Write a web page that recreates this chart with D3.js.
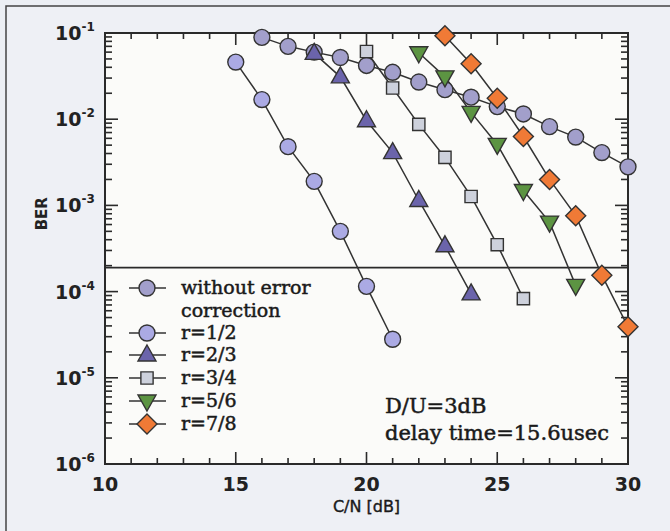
<!DOCTYPE html>
<html>
<head>
<meta charset="utf-8">
<script src="https://cdn.jsdelivr.net/npm/d3@7"></script>
<style>
  body { margin: 0; background: #eceff4; }
  svg { display: block; }
</style>
</head>
<body>
<svg width="670" height="531"></svg>
<script>
var svg = d3.select("svg");
var width = +svg.attr("width");
var height = +svg.attr("height");

// data
var seriesNames = ["without error correction", "r=1/2", "r=2/3", "r=3/4", "r=5/6", "r=7/8"];
var noCorrX = [16, 17, 18, 19, 20, 21, 22, 23, 24, 25, 26, 27, 28, 29, 30];
var noCorrY = [0.089, 0.070, 0.060, 0.052, 0.042, 0.035, 0.027, 0.022, 0.018, 0.014, 0.0115, 0.0082, 0.0062, 0.0041, 0.0028];
var r12X = [15, 16, 17, 18, 19, 20, 21];
var r12Y = [0.046, 0.0169, 0.0048, 0.0019, 0.00050, 0.000115, 2.8e-5];
var r23X = [18, 19, 20, 21, 22, 23, 24];
var r23Y = [0.058, 0.031, 0.0096, 0.0041, 0.00114, 0.00034, 9.4e-5];
var r34X = [20, 21, 22, 23, 24, 25, 26];
var r34Y = [0.061, 0.023, 0.0087, 0.0036, 0.00127, 0.00035, 8.3e-5];
var r56X = [22, 23, 24, 25, 26, 27, 28];
var r56Y = [0.059, 0.031, 0.012, 0.0051, 0.00149, 0.00064, 0.000118];
var r78X = [23, 24, 25, 26, 27, 28, 29, 30];
var r78Y = [0.093, 0.044, 0.0175, 0.0063, 0.0020, 0.00076, 0.000155, 3.9e-5];
var thresholdBER = 1.9e-4;
var xTicks = [10, 15, 20, 25, 30];
var yTicks = [1e-1, 1e-2, 1e-3, 1e-4, 1e-5, 1e-6];
var yTickExp = ["-1", "-2", "-3", "-4", "-5", "-6"];

var series = [
  {name: seriesNames[0], xs: noCorrX, ys: noCorrY, shape: "circle", fill: "#a29fcb"},
  {name: seriesNames[1], xs: r12X, ys: r12Y, shape: "circle", fill: "#abaae4"},
  {name: seriesNames[2], xs: r23X, ys: r23Y, shape: "up", fill: "#6b64ab"},
  {name: seriesNames[3], xs: r34X, ys: r34Y, shape: "square", fill: "#cdd1dc"},
  {name: seriesNames[4], xs: r56X, ys: r56Y, shape: "down", fill: "#5c9442"},
  {name: seriesNames[5], xs: r78X, ys: r78Y, shape: "diamond", fill: "#f07a36"}
];

var margin = {left: 105, right: 42, top: 33, bottom: 67};
var x = d3.scaleLinear().domain([10, 30]).range([margin.left, width - margin.right]);
var y = d3.scaleLog().domain([1e-6, 1e-1]).range([height - margin.bottom, margin.top]);

// outer frame
svg.append("rect")
  .attr("x", 6).attr("y", 6).attr("width", 700).attr("height", 600)
  .style("fill", "#eef0f5").style("stroke", "#444").style("stroke-width", 1.5);

svg.append("rect")
  .attr("x", x(10)).attr("y", y(1e-1))
  .attr("width", x(30) - x(10)).attr("height", y(1e-6) - y(1e-1))
  .style("fill", "#fbfbf9");

// ticks (inward) on all four sides
var g = svg.append("g").style("stroke", "#2a2a2a").style("stroke-width", 1.6);
d3.range(10, 31).forEach(function (v) {
  var len = v % 5 == 0 ? 12 : 6;
  g.append("line").attr("x1", x(v)).attr("x2", x(v)).attr("y1", y(1e-6)).attr("y2", y(1e-6) - len);
  g.append("line").attr("x1", x(v)).attr("x2", x(v)).attr("y1", y(1e-1)).attr("y2", y(1e-1) + len);
});
var yMinor = [];
for (var e = -6; e < -1; e++) {
  for (var m = 1; m < 10; m++) yMinor.push({v: m * Math.pow(10, e), major: m == 1});
}
yMinor.push({v: 1e-1, major: true});
yMinor.forEach(function (t) {
  var len = t.major ? 13 : 7;
  g.append("line").attr("x1", x(10)).attr("x2", x(10) + len).attr("y1", y(t.v)).attr("y2", y(t.v));
  g.append("line").attr("x1", x(30)).attr("x2", x(30) - len).attr("y1", y(t.v)).attr("y2", y(t.v));
});

svg.append("rect")
  .attr("x", x(10)).attr("y", y(1e-1))
  .attr("width", x(30) - x(10)).attr("height", y(1e-6) - y(1e-1))
  .style("fill", "none").style("stroke", "#2a2a2a").style("stroke-width", 2);

// tick labels
svg.append("g").selectAll("text").data(xTicks).enter().append("text")
  .attr("x", function (d) { return x(d); })
  .attr("y", y(1e-6) + 27)
  .attr("text-anchor", "middle")
  .style("font-family", "DejaVu Sans")
  .style("font-weight", "bold")
  .style("font-size", "19px")
  .style("fill", "#222")
  .text(function (d) { return d; });

var yl = svg.append("g").selectAll("text").data(yTicks).enter().append("text")
  .attr("x", x(10) - 50)
  .attr("y", function (d) { return y(d) + 7; })
  .style("font-family", "DejaVu Sans")
  .style("font-weight", "bold")
  .style("font-size", "19px")
  .style("fill", "#222")
  .text("10");
yl.append("tspan")
  .attr("dy", -9)
  .style("font-size", "12px")
  .text(function (d, i) { return yTickExp[i]; });

svg.append("text")
  .attr("transform", "translate(47," + y(8e-4) + ") rotate(-90)")
  .attr("text-anchor", "middle")
  .style("font-family", "DejaVu Sans")
  .style("font-weight", "bold")
  .style("font-size", "15px")
  .style("fill", "#222")
  .text("BER");

svg.append("text")
  .attr("x", x(20)).attr("y", 512)
  .attr("text-anchor", "middle")
  .style("font-family", "DejaVu Sans")
  .style("font-size", "16px")
  .style("fill", "#1a1a1a")
  .style("stroke", "#1a1a1a").style("stroke-width", 0.4)
  .text("C/N [dB]");

// threshold line
svg.append("line")
  .attr("x1", x(10)).attr("x2", x(30))
  .attr("y1", y(thresholdBER)).attr("y2", y(thresholdBER))
  .style("stroke", "#2a2a2a").style("stroke-width", 1.8);

function symbol(shape) {
  if (shape == "circle") return d3.symbol().type(d3.symbolCircle).size(200)();
  if (shape == "square") return d3.symbol().type(d3.symbolSquare).size(150)();
  if (shape == "diamond") return "M0,-10L10,0L0,10L-10,0Z";
  if (shape == "up") return "M0,-10L9,6L-9,6Z";
  return "M0,10L9,-6L-9,-6Z";
}

var line = d3.line()
  .x(function (d) { return x(d[0]); })
  .y(function (d) { return y(d[1]); });

series.forEach(function (s) {
  var pts = s.xs.map(function (v, i) { return [v, s.ys[i]]; });
  svg.append("path").datum(pts)
    .attr("d", line)
    .style("fill", "none").style("stroke", "#333").style("stroke-width", 1.5);
});
series.forEach(function (s) {
  var pts = s.xs.map(function (v, i) { return [v, s.ys[i]]; });
  svg.append("g").selectAll("path").data(pts).enter().append("path")
    .attr("transform", function (d) { return "translate(" + x(d[0]) + "," + y(d[1]) + ")"; })
    .attr("d", symbol(s.shape))
    .style("fill", s.fill).style("stroke", "#333").style("stroke-width", 1.4);
});

// legend
var legRows = [288, 333, 355, 378, 401, 424];
var leg = svg.append("g");
series.forEach(function (s, i) {
  var ly = legRows[i];
  leg.append("line").attr("x1", 129).attr("x2", 166).attr("y1", ly).attr("y2", ly)
    .style("stroke", "#333").style("stroke-width", 1.6);
  leg.append("path").attr("transform", "translate(147," + ly + ")")
    .attr("d", symbol(s.shape))
    .style("fill", s.fill).style("stroke", "#333").style("stroke-width", 1.4);
});
var legText = ["without error", "correction", "r=1/2", "r=2/3", "r=3/4", "r=5/6", "r=7/8"];
var legTextY = [288, 311, 333, 355, 378, 401, 424];
leg.selectAll("text").data(legText).enter().append("text")
  .attr("x", 181)
  .attr("y", function (d, i) { return legTextY[i] + 6; })
  .style("font-family", "DejaVu Serif")
  .style("font-size", "19px")
  .style("fill", "#1a1a1a")
  .style("stroke", "#1a1a1a").style("stroke-width", 0.5)
  .text(function (d) { return d; });

svg.append("text").attr("x", 385).attr("y", 413)
  .style("font-family", "DejaVu Serif").style("font-size", "21px")
  .style("fill", "#1a1a1a").style("stroke", "#1a1a1a").style("stroke-width", 0.5)
  .text("D/U=3dB");
svg.append("text").attr("x", 385).attr("y", 440)
  .style("font-family", "DejaVu Serif").style("font-size", "21px")
  .style("fill", "#1a1a1a").style("stroke", "#1a1a1a").style("stroke-width", 0.5)
  .text("delay time=15.6usec");
</script>
</body>
</html>
